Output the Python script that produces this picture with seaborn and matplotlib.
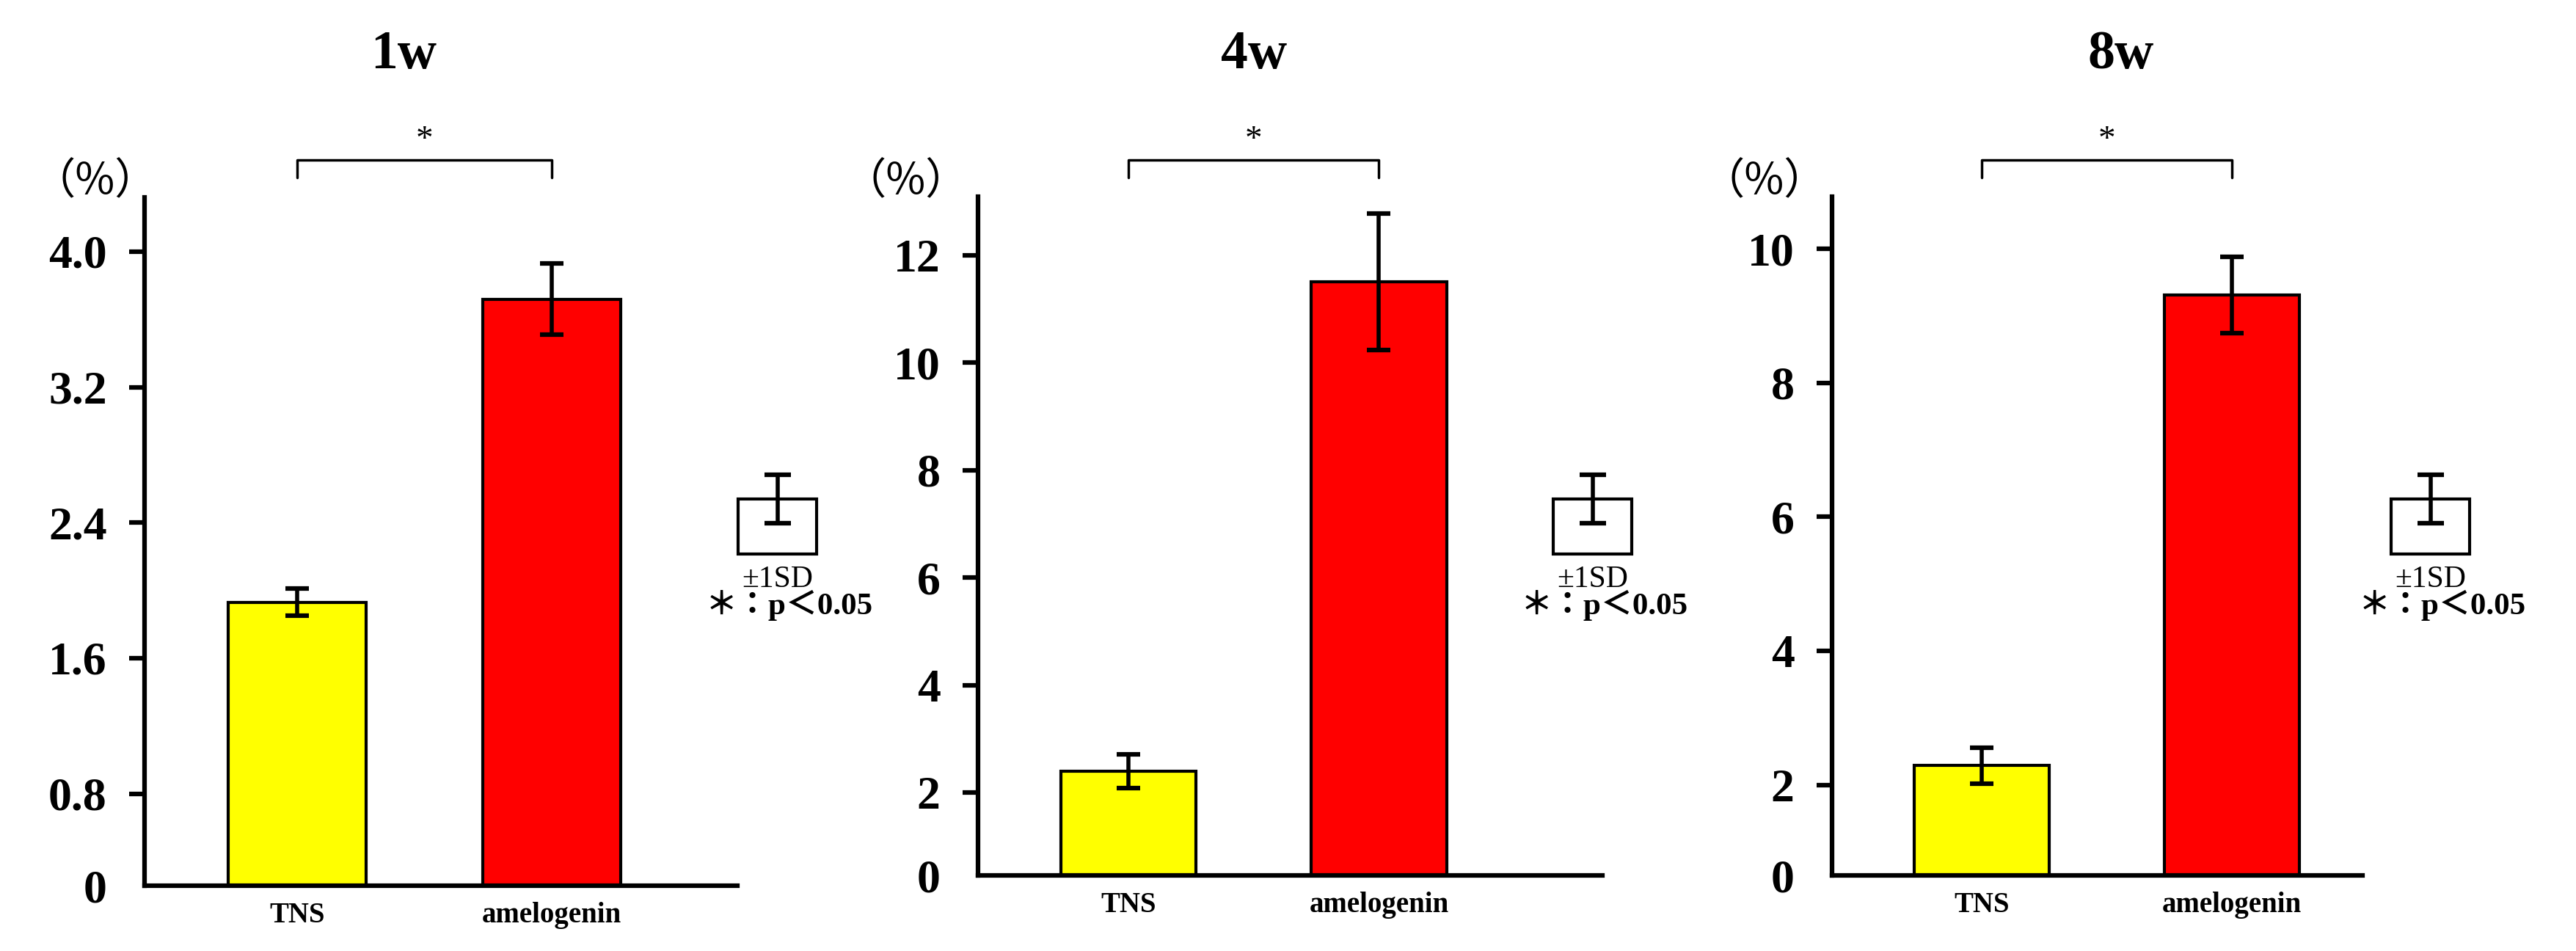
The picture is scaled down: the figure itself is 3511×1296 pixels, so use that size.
import matplotlib
matplotlib.use("Agg")
import matplotlib.pyplot as plt
import matplotlib.transforms as mtransforms
import seaborn as sns

# values (mean and 1 SD, in %)
weeks = ['1w', '4w', '8w']
groups = ['TNS', 'amelogenin']
tns_mean = [1.93, 2.40, 2.29]
tns_sd = [0.08, 0.31, 0.27]
amel_mean = [3.72, 11.5, 9.31]
amel_sd = [0.21, 1.27, 0.57]

ticks_1w = [0.8, 1.6, 2.4, 3.2, 4.0]
ticks_4w = [2, 4, 6, 8, 10, 12]
ticks_8w = [2, 4, 6, 8, 10]
tick_fmt = ['{:.1f}', '{:g}', '{:g}']

# axis range as drawn in the original (bottom labelled "0")
y_floor = [0.257, 0.46, 0.65]
y_top = [4.32, 13.09, 10.78]

bar_colors = ['#FFFF00', '#FF0000']

W, H = 3511, 1296

# layout in pixels: left, right, bottom, top of each plot area
panel_px = [(197, 1005, 1207, 269), (1333, 2184, 1193, 268), (2497, 3220, 1193, 268)]
x_right = [1.729, 1.892, 1.524]
title_x = [550, 1709, 2891]
pct_x = [130, 1235, 2405]
legend_left = [1006, 2117, 3259]

sns.set_style('ticks')
plt.rcParams['font.family'] = ['Liberation Serif', 'Noto Sans CJK JP']
for key in ['text.color', 'axes.labelcolor', 'xtick.color', 'ytick.color', 'axes.edgecolor']:
    plt.rcParams[key] = 'black'

fig = plt.figure(figsize=(W / 100, H / 100), dpi=100)


def fig_rect(l, r, b, t):
    return [l / W, 1 - b / H, (r - l) / W, (b - t) / H]


all_ticks = [ticks_1w, ticks_4w, ticks_8w]

for i, week in enumerate(weeks):
    l, r, b, t = panel_px[i]
    ax = fig.add_axes(fig_rect(l, r, b, t))
    means = [tns_mean[i], amel_mean[i]]
    sds = [tns_sd[i], amel_sd[i]]

    sns.barplot(x=groups, y=means, hue=groups, palette=bar_colors, legend=False,
                saturation=1, width=0.54, edgecolor='black', linewidth=3,
                errorbar=None, ax=ax)
    ax.errorbar([0, 1], means, yerr=sds, fmt='none', ecolor='black',
                elinewidth=4, capsize=11.5, capthick=4.5, zorder=4)

    ax.set_xlim(-0.6, x_right[i])
    ax.set_ylim(y_floor[i], y_top[i])
    ticks = all_ticks[i]
    ax.set_yticks([y_floor[i]] + ticks)
    ax.set_yticklabels(['0'] + [tick_fmt[i].format(v) for v in ticks],
                       fontsize=46, fontweight='bold')
    ax.yaxis.get_major_ticks()[0].tick1line.set_visible(False)
    ax.tick_params(axis='y', length=15, width=4.5, pad=22, direction='out')
    ax.tick_params(axis='x', length=0, pad=16)
    for lab in ax.get_xticklabels():
        lab.set_fontsize(28)
        lab.set_fontweight('bold')
    ax.set_xlabel('')
    ax.set_ylabel('')
    sns.despine(ax=ax)
    for side in ['left', 'bottom']:
        ax.spines[side].set_linewidth(4.5)
        ax.spines[side].set_zorder(5)

    # significance bracket between the two bars
    trans = mtransforms.blended_transform_factory(ax.transData, fig.transFigure)
    yb, yt = 1 - 242 / H, 1 - 218 / H
    ax.plot([0, 0, 1, 1], [yb, yt, yt, yb], color='black', lw=2.5,
            transform=trans, clip_on=False)
    ax.text(0.5, 1 - 192 / H, '*', transform=trans, ha='center', va='center',
            fontsize=34)

    fig.text(title_x[i] / W, 1 - 75 / H, week, ha='center', va='center',
             fontsize=53, fontweight='bold')
    fig.text(pct_x[i] / W, 1 - 248 / H, '（%）', ha='center', va='center',
             fontsize=42, family=['Noto Sans CJK JP', 'DejaVu Sans'])

    # key: open bar with ±1 SD whisker
    lx = legend_left[i]
    lax = fig.add_axes(fig_rect(lx, lx + 107, 755, 635))
    lax.bar([0], [1], width=1, color='white', edgecolor='black', linewidth=3)
    lax.errorbar([0], [1], yerr=[0.44], fmt='none', ecolor='black',
                 elinewidth=4, capsize=13, capthick=4.5)
    lax.set_xlim(-0.5, 0.5)
    lax.set_ylim(0, 1.6)
    lax.axis('off')
    for a in lax.get_children():
        if hasattr(a, 'set_clip_on'):
            a.set_clip_on(False)
    fig.text((lx + 54) / W, 1 - 790 / H, '±1SD', ha='center', va='center',
             fontsize=30)
    fig.text((lx + 70) / W, 1 - 825 / H, '＊：p＜0.05', ha='center', va='center',
             fontsize=31, fontweight='bold')

fig.savefig('out.png', dpi=100, facecolor='white')
